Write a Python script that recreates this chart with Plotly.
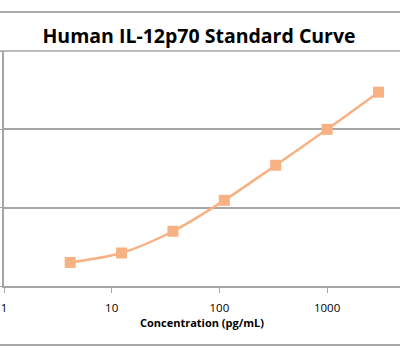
import plotly.graph_objects as go
import numpy as np

# Data
concentration = [4.12, 12.35, 37.04, 111.1, 333.3, 1000, 3000]   # pg/mL
od_values = [0.020, 0.0264, 0.050, 0.124, 0.348, 1.00, 2.98]
x_tick_vals = [1, 10, 100, 1000]
x_tick_text = ["1", "10", "100", "1000"]

COLOR = "#F8B183"
GRID = "#A6A6A6"

fig = go.Figure()
fig.add_trace(go.Scatter(
    x=concentration, y=od_values, mode="lines+markers",
    line=dict(color=COLOR, width=2.5, shape="spline", smoothing=0.8),
    marker=dict(symbol="square", size=11, color=COLOR),
    showlegend=False, hoverinfo="x+y",
))

fig.update_layout(
    width=400, height=362,
    margin=dict(l=4, r=0, t=51, b=76, autoexpand=False),
    paper_bgcolor="white", plot_bgcolor="white",
    title=dict(text="<b>Human IL-12p70 Standard Curve</b>",
               x=199/400, xanchor="center", y=1 - 36/362, yanchor="middle",
               font=dict(family="Open Sans", size=19.5, color="#000000")),
    font=dict(family="Open Sans", color="#000000"),
    xaxis=dict(type="log", range=[0, (400-4)/107.7],
               tickvals=x_tick_vals, ticktext=x_tick_text,
               ticks="outside", ticklen=5, tickcolor=GRID,
               ticklabelstandoff=5,
               showline=True, linecolor=GRID, linewidth=1.5,
               showgrid=False, zeroline=False, automargin=False,
               tickfont=dict(size=11.5, family="Open Sans", color="#000000"),
               title=dict(text="<b>Concentration (pg/mL)</b>",
                          font=dict(size=11, family="Open Sans", color="#000000"),
                          standoff=6)),
    yaxis=dict(type="log", range=[-2, 1],
               tickvals=[0.01, 0.1, 1, 10],
               showticklabels=False, automargin=False,
               ticks="outside", ticklen=4, tickcolor=GRID,
               showline=True, linecolor=GRID, linewidth=1.5,
               showgrid=True, gridcolor=GRID, gridwidth=1.5,
               zeroline=False),
)

# top gridline (range boundary)
fig.add_shape(type="line", xref="paper", yref="paper",
              x0=-4/396, x1=1, y0=1, y1=1,
              line=dict(color=GRID, width=1.5))
# chart area border lines (top and bottom)
fig.add_shape(type="line", xref="paper", yref="paper",
              x0=-0.1, x1=1.1, y0=1 + (51-12)/235, y1=1 + (51-12)/235,
              line=dict(color="#8C8C8C", width=1.5))
fig.add_shape(type="line", xref="paper", yref="paper",
              x0=-0.1, x1=1.1, y0=-(345-286)/235, y1=-(345-286)/235,
              line=dict(color="#8C8C8C", width=1.5))

fig.write_html("out.html", config={"displayModeBar": False},
               post_script="document.body.style.margin='0px';document.body.style.overflow='hidden';")
